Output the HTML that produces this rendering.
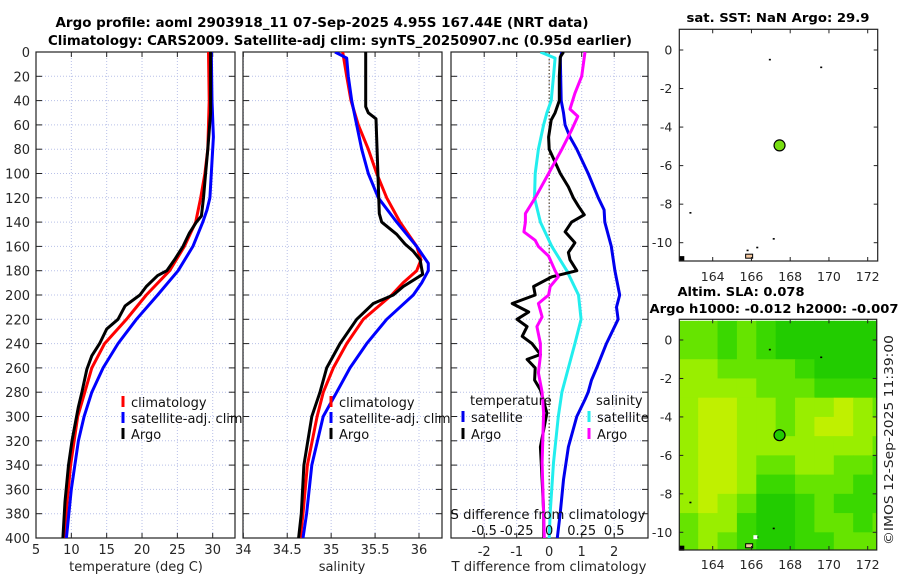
<!DOCTYPE html>
<html><head><meta charset="utf-8">
<style>
html,body{margin:0;padding:0;background:#fff;}
svg{display:block;font-family:"DejaVu Sans","Liberation Sans",sans-serif;}
</style></head>
<body>
<svg id="chart" width="900" height="580" viewBox="0 0 900 580" xmlns="http://www.w3.org/2000/svg">
<defs>
<clipPath id="c1"><rect x="36" y="52" width="199" height="486"/></clipPath>
<clipPath id="c2"><rect x="243" y="52" width="199" height="486"/></clipPath>
<clipPath id="c3"><rect x="451" y="52" width="197" height="486"/></clipPath>
</defs>
<text x="322" y="27" text-anchor="middle" font-weight="bold" font-size="13" textLength="533" lengthAdjust="spacingAndGlyphs">Argo profile: aoml 2903918_11 07-Sep-2025 4.95S 167.44E (NRT data)</text>
<text x="340" y="45" text-anchor="middle" font-weight="bold" font-size="13" textLength="584" lengthAdjust="spacingAndGlyphs">Climatology: CARS2009. Satellite-adj clim: synTS_20250907.nc (0.95d earlier)</text>
<g id="g1"></g><g id="g2"></g><g id="g3"></g><g id="gm1"></g><g id="gm2"></g>
<text x="778" y="22" text-anchor="middle" font-weight="bold" font-size="12.5" textLength="183" lengthAdjust="spacingAndGlyphs">sat. SST: NaN Argo: 29.9</text>
<text x="741" y="296" text-anchor="middle" font-weight="bold" font-size="12.5" textLength="127" lengthAdjust="spacingAndGlyphs">Altim. SLA: 0.078</text>
<text x="774" y="313" text-anchor="middle" font-weight="bold" font-size="12.5" textLength="249" lengthAdjust="spacingAndGlyphs">Argo h1000: -0.012 h2000: -0.007</text>
<text x="0" y="0" transform="translate(893,440) rotate(-90)" text-anchor="middle" font-size="12" fill="#222" textLength="210" lengthAdjust="spacingAndGlyphs">©IMOS 12-Sep-2025 11:39:00</text>
</svg>
<script>
// ---------- data ----------
const depthTicks=[0,20,40,60,80,100,120,140,160,180,200,220,240,260,280,300,320,340,360,380,400];
const tempTicks=[5,10,15,20,25,30];
const salTicks=[34,34.5,35,35.5,36];
const tdiffTicks=[-2,-1,0,1,2];
const sdiffTicks=[-0.5,-0.25,0,0.25,0.5];
const sdiffTickLabels=["-0.5","-0.25","0","0.25","0.5"];

const tClimDepth=[0,40,80,100,120,140,160,180,200,220,240,260,280,300,340,370,400];
const tClim=[29.4,29.5,29.3,28.9,28.3,27.6,26.0,23.9,20.6,17.8,14.7,12.9,11.9,10.9,9.9,9.4,9.0];
const tSatDepth=[0,40,70,100,120,130,140,160,180,200,220,240,260,280,300,320,360,400];
const tSat=[29.8,29.9,30.1,29.8,29.6,29.2,28.6,27.2,25.1,22.2,19.2,16.6,14.5,12.9,11.8,11.0,10.0,9.3];
const tArgoDepth=[0,50,80,100,120,135,140,149,160,171,180,184,193,200,209,220,228,240,250,261,280,292,320,340,370,400];
const tArgo=[29.7,29.7,29.3,29.0,28.7,28.4,27.7,26.7,25.8,24.6,23.5,22.2,20.6,19.7,17.6,16.6,15.0,14.0,12.9,12.2,11.5,11.0,10.1,9.6,9.1,8.8];

const sClimDepth=[0,20,40,60,80,100,120,140,160,171,180,190,200,220,240,260,280,300,340,380,400];
const sClim=[35.131,35.177,35.226,35.309,35.423,35.518,35.632,35.784,35.974,36.023,35.974,35.818,35.689,35.366,35.177,35.024,34.911,34.84,34.73,34.68,34.65];
const sSatDepth=[0,5,20,40,60,80,100,120,140,160,174,180,190,200,220,240,260,280,300,340,380,400];
const sSat=[35.044,35.177,35.195,35.234,35.291,35.348,35.423,35.537,35.746,35.974,36.106,36.106,36.031,35.935,35.632,35.405,35.215,35.063,34.91,34.78,34.72,34.68];
const sArgoDepth=[0,45,50,55,133,140,150,158,164,171,183,193,200,207,220,240,260,280,300,340,380,400];
const sArgo=[35.393,35.393,35.423,35.511,35.548,35.575,35.746,35.841,35.935,36.012,36.042,35.821,35.707,35.480,35.291,35.101,34.949,34.873,34.78,34.69,34.66,34.63];

const dTSatDepth=[0,5,40,50,60,70,80,100,120,130,140,160,180,200,210,220,240,260,270,280,286,300,325,352,379,400];
const dTSat=[0.39,0.34,0.37,0.44,0.49,0.64,0.85,1.2,1.51,1.69,1.71,1.91,2.02,2.17,2.07,2.12,1.76,1.46,1.3,1.2,1.1,0.85,0.59,0.44,0.34,0.25];
const dTArgoDepth=[0,4,20,40,50,56,70,80,100,111,120,127,134,140,148,157,165,171,180,185,193,200,207,214,220,226,234,240,249,253,260,270,278,297,325,352,379,400];
const dTArgo=[0.44,0.34,0.31,0.31,0.18,0.06,-0.02,0,0.34,0.59,0.74,0.9,1.08,0.69,0.49,0.79,0.59,0.64,0.85,0.08,-0.48,-0.43,-1.14,-0.63,-0.99,-0.68,-0.83,-0.53,-0.27,-0.68,-0.43,-0.45,-0.27,-0.07,-0.27,-0.22,-0.17,-0.17];
const dSSatDepth=[0,5,20,40,50,60,80,100,120,140,160,180,200,220,240,260,280,300,338,379,400];
const dSSat=[-0.068,0.045,0.033,0.015,-0.018,-0.043,-0.083,-0.108,-0.113,-0.068,0.02,0.135,0.225,0.245,0.198,0.148,0.098,0.07,0.033,0.008,0];
const dSArgoDepth=[0,20,34,47,53,64,80,100,120,133,140,148,155,160,168,180,185,193,200,207,218,226,240,250,264,280,297,338,400];
const dSArgo=[0.275,0.25,0.198,0.16,0.22,0.173,0.098,-0.005,-0.108,-0.183,-0.183,-0.195,-0.108,-0.083,-0.005,0.045,0.07,0.008,-0.005,-0.083,-0.055,-0.095,-0.068,-0.068,-0.083,-0.055,-0.043,-0.055,-0.038];

const lonTicks=[164,166,168,170,172];
const latTicks=[0,-2,-4,-6,-8,-10];
const argoLon=167.45, argoLat=-4.95;
const slaLon=[162.25,163.25,164.25,165.25,166.25,167.25,168.25,169.25,170.25,171.25,172.25];
const slaLat=[1,0,-1,-2,-3,-4,-5,-6,-7,-8,-9,-10];
const slaGrid=[
[2,2,1,2,1,0,0,0,0,0,0],
[2,2,1,2,1,0,0,0,0,0,0],
[3,3,2,2,2,2,1,0,0,0,0],
[3,3,3,3,2,2,2,1,1,1,1],
[3,4,4,3,3,2,3,3,4,3,2],
[3,4,4,3,3,2,3,4,4,3,3],
[3,4,4,3,3,3,3,3,3,3,2],
[3,4,4,3,2,2,3,3,2,2,1],
[3,4,4,3,1,1,2,2,2,1,1],
[3,4,3,2,0,0,1,2,1,1,1],
[2,3,3,1,0,0,1,2,2,1,2],
[2,3,2,1,0,0,1,1,2,2,2]];

// ---------- helpers ----------
const NS="http://www.w3.org/2000/svg";
function mk(tag,attrs,parent,txt){const e=document.createElementNS(NS,tag);for(const k in attrs)e.setAttribute(k,attrs[k]);if(txt!==undefined)e.textContent=txt;parent.appendChild(e);return e;}
const TOP=52,BOT=538;
const yD=d=>TOP+d*(BOT-TOP)/400;
function lin(d0,d1,r0,r1){return v=>r0+(v-d0)*(r1-r0)/(d1-d0);}

function panel(g,x0,x1,xs,xticks,clip,showY){
  for(const t of xticks){const l=mk('line',{x1:xs(t),x2:xs(t),y1:TOP,y2:BOT,stroke:'#b8c0e8','stroke-width':1,'stroke-dasharray':'1,2'},g);}
  for(const d of depthTicks){
    const y=yD(d);
    const l=mk('line',{x1:x0,x2:x1,y1:y,y2:y,stroke:'#b8c0e8','stroke-width':1,'stroke-dasharray':'1,2'},g);
    mk('line',{x1:x0,x2:x0+6,y1:y,y2:y,stroke:'#222','stroke-width':1},g);
    mk('line',{x1:x1-6,x2:x1,y1:y,y2:y,stroke:'#222','stroke-width':1},g);
    if(showY){const t=mk('text',{x:x0-6,y:y+5,'text-anchor':'end','font-size':13,fill:'#262626'},g,String(d));}
  }
  for(const t of xticks){mk('line',{x1:xs(t),x2:xs(t),y1:TOP,y2:TOP+5,stroke:'#222'},g);mk('line',{x1:xs(t),x2:xs(t),y1:BOT-5,y2:BOT,stroke:'#222'},g);}
  const r=mk('rect',{x:x0,y:TOP,width:x1-x0,height:BOT-TOP,fill:'none',stroke:'#222','stroke-width':1.2},g);
  
}
function series(g,clip,xs,depths,vals,color,name,w){
  const pts=depths.map((d,i)=>xs(vals[i]).toFixed(1)+','+yD(d).toFixed(1)).join(' ');
  const p=mk('polyline',{points:pts,fill:'none',stroke:color,'stroke-width':w||3,'stroke-linejoin':'round','clip-path':'url(#'+clip+')'},g);
  
}
function legend(g,x,y,color,label,name){
  mk('rect',{x:x-1.5,y:y-6,width:3,height:11,fill:color},g);
  const t=mk('text',{x:x+8,y:y+5,'font-size':13,fill:'#111'},g,label);
  
}

// ---------- panel 1 temperature ----------
const g1=document.getElementById('g1');
const xT=lin(5,30,36,212.7);
panel(g1,36,235,xT,tempTicks,'c1',true);
series(g1,'c1',xT,tClimDepth,tClim,'#ff0000','temp-climatology-line');
series(g1,'c1',xT,tSatDepth,tSat,'#0000ff','temp-satellite-line');
series(g1,'c1',xT,tArgoDepth,tArgo,'#000000','temp-argo-line');
for(const t of tempTicks){const e=mk('text',{x:xT(t),y:554,'text-anchor':'middle','font-size':13,fill:'#262626'},g1,String(t));}
{const e=mk('text',{x:136,y:571,'text-anchor':'middle','font-size':13,fill:'#262626'},g1,'temperature (deg C)');}
legend(g1,123,402,'#ff0000','climatology','legend-climatology');
legend(g1,123,418,'#0000ff','satellite-adj. clim','legend-satellite');
legend(g1,123,434,'#000000','Argo','legend-argo');

// ---------- panel 2 salinity ----------
const g2=document.getElementById('g2');
const xS=lin(34,36,243.3,419);
panel(g2,243,442,xS,salTicks,'c2',false);
series(g2,'c2',xS,sClimDepth,sClim,'#ff0000','sal-climatology-line');
series(g2,'c2',xS,sSatDepth,sSat,'#0000ff','sal-satellite-line');
series(g2,'c2',xS,sArgoDepth,sArgo,'#000000','sal-argo-line');
for(const t of salTicks){const e=mk('text',{x:xS(t),y:554,'text-anchor':'middle','font-size':13,fill:'#262626'},g2,String(t));}
{const e=mk('text',{x:342,y:571,'text-anchor':'middle','font-size':13,fill:'#262626'},g2,'salinity');}
legend(g2,331,402,'#ff0000','climatology','legend-climatology');
legend(g2,331,418,'#0000ff','satellite-adj. clim','legend-satellite');
legend(g2,331,434,'#000000','Argo','legend-argo');

// ---------- panel 3 differences ----------
const g3=document.getElementById('g3');
const xTd=lin(-1,1,516.7,581.7);
const xSd=v=>xTd(v*4);
panel(g3,451,648,xTd,tdiffTicks,'c3',false);
{const z=mk('line',{x1:xTd(0),x2:xTd(0),y1:TOP,y2:BOT,stroke:'#5a4a30','stroke-width':1.2,'stroke-dasharray':'1.5,2'},g3);}
series(g3,'c3',xSd,dSSatDepth,dSSat,'#22eeee','sdiff-satellite-line');
series(g3,'c3',xTd,dTSatDepth,dTSat,'#0000ee','tdiff-satellite-line');
series(g3,'c3',xTd,dTArgoDepth,dTArgo,'#000000','tdiff-argo-line');
series(g3,'c3',xSd,dSArgoDepth,dSArgo,'#ff00ff','sdiff-argo-line');
for(const t of tdiffTicks){const e=mk('text',{x:xTd(t),y:556,'text-anchor':'middle','font-size':13,fill:'#262626'},g3,String(t));}
sdiffTicks.forEach((t,i)=>{const e=mk('text',{x:xSd(t),y:535,'text-anchor':'middle','font-size':13,fill:'#111'},g3,sdiffTickLabels[i]);});
{const e=mk('text',{x:548,y:519,'text-anchor':'middle','font-size':13,fill:'#111',textLength:195,lengthAdjust:'spacingAndGlyphs'},g3,'S difference from climatology');}
{const e=mk('text',{x:549,y:571,'text-anchor':'middle','font-size':13,fill:'#262626',textLength:195,lengthAdjust:'spacingAndGlyphs'},g3,'T difference from climatology');}
{const e=mk('text',{x:470,y:405,'font-size':13,fill:'#111'},g3,'temperature');}
legend(g3,463,417,'#0000ee','satellite','legend-t-satellite');
legend(g3,463,434,'#000000','Argo','legend-t-argo');
{const e=mk('text',{x:596,y:405,'font-size':13,fill:'#111'},g3,'salinity');}
legend(g3,589,417,'#22eeee','satellite','legend-s-satellite');
legend(g3,589,434,'#ff00ff','Argo','legend-s-argo');

// ---------- maps ----------
function mapAxes(g,x0,x1,y0,y1,lonS,latS,labY){
  for(const l of lonTicks){
    mk('line',{x1:lonS(l),x2:lonS(l),y1:y0,y2:y0+4,stroke:'#222'},g);mk('line',{x1:lonS(l),x2:lonS(l),y1:y1-4,y2:y1,stroke:'#222'},g);
    const t=mk('text',{x:lonS(l),y:labY,'text-anchor':'middle','font-size':12.5,fill:'#262626'},g,String(l));
  }
  for(const a of latTicks){
    mk('line',{x1:x0,x2:x0+4,y1:latS(a),y2:latS(a),stroke:'#222'},g);mk('line',{x1:x1-4,x2:x1,y1:latS(a),y2:latS(a),stroke:'#222'},g);
    const t=mk('text',{x:x0-7,y:latS(a)+4.5,'text-anchor':'end','font-size':12.5,fill:'#262626'},g,String(a));
  }
  const r=mk('rect',{x:x0,y:y0,width:x1-x0,height:y1-y0,fill:'none',stroke:'#222','stroke-width':1.2},g);
  
}
const lonS=lin(164,172,712.7,867.7);
// map 1
const gm1=document.getElementById('gm1');
const latS1=lin(0,-10,50,242.7);
mk('rect',{x:679.3,y:29.3,width:198.4,height:231.7,fill:'#fff'},gm1);
for(const [lo,la] of [[166.95,-0.5],[169.6,-0.9],[162.85,-8.45],[167.15,-9.8],[166.3,-10.25],[165.8,-10.4]]){mk('rect',{x:lonS(lo)-1,y:latS1(la)-0.8,width:2,height:1.6,fill:'#000'},gm1);}
mk('rect',{x:lonS(165.7),y:latS1(-10.7)-2,width:7,height:4,fill:'#f4c8a0',stroke:'#000','stroke-width':1},gm1);
mk('rect',{x:679.3,y:latS1(-10.8)-2,width:5,height:5,fill:'#000'},gm1);
mapAxes(gm1,679.3,877.7,29.3,261,lonS,latS1,281);
{const c=mk('circle',{cx:lonS(argoLon),cy:latS1(argoLat),r:5.5,fill:'#77dd11',stroke:'#000','stroke-width':1.2},gm1);}

// map 2
const gm2=document.getElementById('gm2');
const latS2=lin(0,-10,340,532.3);
const slaColors=['#22cc00','#3ad800','#66e400','#99ee00','#c0f000'];
const mx0=679.3,mx1=876.7,my0=319.3,my1=550;
slaGrid.forEach((row,ri)=>{row.forEach((v,ci)=>{
  const xa=Math.max(mx0,lonS(slaLon[ci])),xb=Math.min(mx1,lonS(slaLon[ci]+1));
  const ya=Math.max(my0,latS2(slaLat[ri])),yb=Math.min(my1,latS2(slaLat[ri]-1));
  if(xb<=xa||yb<=ya)return;
  const c=mk('rect',{x:xa,y:ya,width:xb-xa+0.5,height:yb-ya+0.5,fill:slaColors[v]},gm2);
  
});});
for(const [lo,la] of [[166.95,-0.5],[169.6,-0.9],[162.85,-8.45],[167.15,-9.8],[166.3,-10.25]]){mk('rect',{x:lonS(lo)-1,y:latS2(la)-0.8,width:2,height:1.6,fill:'#000'},gm2);}
mk('rect',{x:lonS(166.1),y:latS2(-10.15),width:4,height:4,fill:'#fff'},gm2);
mk('rect',{x:lonS(165.7),y:latS2(-10.7)-2,width:7,height:4,fill:'#f4c8a0',stroke:'#000','stroke-width':1},gm2);
mk('rect',{x:679.3,y:latS2(-10.8)-2,width:5,height:5,fill:'#000'},gm2);
mapAxes(gm2,mx0,mx1,my0,my1,lonS,latS2,569);
{const c=mk('circle',{cx:lonS(argoLon),cy:latS2(argoLat),r:5.5,fill:'#22cc00',stroke:'#000','stroke-width':1.2},gm2);}
</script>
</body></html>
